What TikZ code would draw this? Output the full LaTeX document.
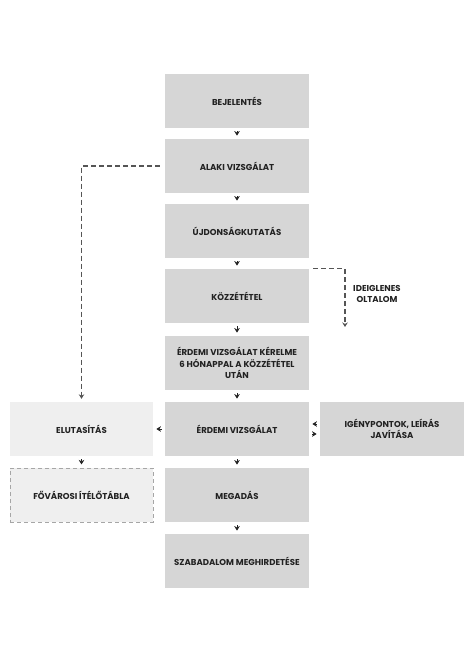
\documentclass[tikz,border=0pt]{standalone}
\usepackage{fontspec}
\setmainfont{Poppins}
\usepackage{xcolor}
\usepackage{tikz}
\usetikzlibrary{arrows.meta,positioning}

\definecolor{boxgray}{HTML}{D6D6D6}
\definecolor{boxlight}{HTML}{EFEFEF}
\definecolor{txtdark}{HTML}{222222}
\definecolor{dashgray}{HTML}{555555}

\begin{document}
\begin{tikzpicture}[x=1bp,y=-1bp,
  stage/.style={fill=boxgray,minimum width=144bp,minimum height=54bp,inner sep=0pt,
    align=center,text=txtdark,font=\bfseries\fontsize{8.6}{11.5}\selectfont},
  sidebox/.style={stage,fill=boxlight},
  head/.style={-{Stealth[length=4.5bp,width=5.5bp]}},
  tip/.style={head,draw=txtdark,fill=txtdark,shorten <=3.2bp,shorten >=3.2bp},
  dashline/.style={draw=dashgray,line width=1.1bp,dash pattern=on 5bp off 3bp}]
  \useasboundingbox (0,0) rectangle (474,670);
  % main column
  \node[stage] (bej)    at (237,101) {BEJELENTÉS};
  \node[stage] (alaki)  at (237,166) {ALAKI VIZSGÁLAT};
  \node[stage] (ujdon)  at (237,231) {ÚJDONSÁGKUTATÁS};
  \node[stage] (kozz)   at (237,296) {KÖZZÉTÉTEL};
  \node[stage] (kerel)  at (237,363) {ÉRDEMI VIZSGÁLAT KÉRELME\\6 HÓNAPPAL A KÖZZÉTÉTEL\\UTÁN};
  \node[stage] (erdemi) at (237,429) {ÉRDEMI VIZSGÁLAT};
  \node[stage] (megad)  at (237,495) {MEGADÁS};
  \node[stage] (szab)   at (237,561) {SZABADALOM MEGHIRDETÉSE};
  % side boxes
  \node[sidebox,minimum width=143bp] (elut) at (81.5,429) {ELUTASÍTÁS};
  \node[sidebox,minimum width=143bp,draw=gray!70,line width=0.8bp,dash pattern=on 4bp off 3bp]
    (fovar) at (81.5,495) {FŐVÁROSI ÍTÉLŐTÁBLA};
  \node[stage] (igeny) at (392,429) {IGÉNYPONTOK, LEÍRÁS\\JAVÍTÁSA};
  \node[align=center,text=txtdark,font=\bfseries\fontsize{8.6}{11.5}\selectfont]
    (ideig) at (377,294) {IDEIGLENES\\OLTALOM};

  \draw[tip] (bej) -- (alaki);
  \draw[tip] (alaki) -- (ujdon);
  \draw[tip] (ujdon) -- (kozz);
  \draw[tip] (kozz) -- (kerel);
  \draw[tip] (kerel) -- (erdemi);
  \draw[tip] (erdemi) -- (megad);
  \draw[tip] (megad) -- (szab);
  \draw[tip] (erdemi) -- (elut);
  \draw[tip] (elut) -- (fovar);
  \draw[tip] ([yshift=5bp]igeny.west) -- ([yshift=5bp]erdemi.east);
  \draw[tip] ([yshift=-5bp]erdemi.east) -- ([yshift=-5bp]igeny.west);

  % dashed branches
  \draw[dashline,head] ([xshift=-5bp]alaki.west) -| ([yshift=3bp]elut.north);
  \coordinate (ideigend) at (345,327);
  \draw[dashline,head] ([xshift=4bp]kozz.north east) -| (ideigend);
\end{tikzpicture}
\end{document}
